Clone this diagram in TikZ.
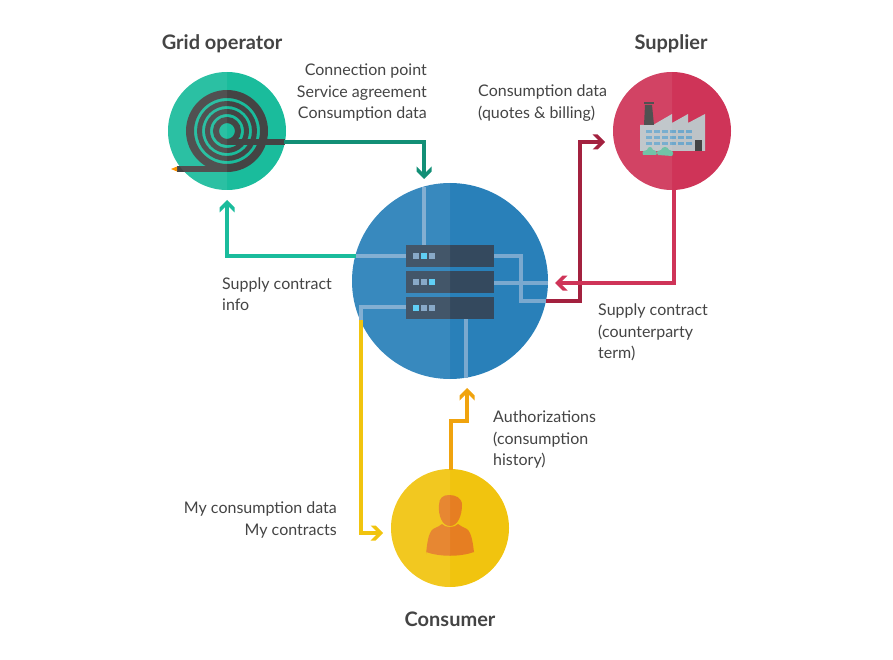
\documentclass[tikz,border=0pt]{standalone}
\usepackage{fontspec}
\setmainfont{Lato}
\usetikzlibrary{arrows.meta}
\definecolor{gridc}{HTML}{1ABC9C}
\definecolor{gridline}{HTML}{128F76}
\definecolor{supc}{HTML}{CF3458}
\definecolor{supdark}{HTML}{A3213F}
\definecolor{srvc}{HTML}{2980B9}
\definecolor{srvline}{HTML}{7AA9CF}
\definecolor{conc}{HTML}{F1C40F}
\definecolor{conline}{HTML}{F0A30E}
\definecolor{rack}{HTML}{34495E}
\definecolor{led}{HTML}{54CCF5}
\definecolor{ledoff}{HTML}{7FA3C4}
\definecolor{coil}{HTML}{444444}
\definecolor{wall}{HTML}{BDC3C7}
\definecolor{pane}{HTML}{6FA8CC}
\definecolor{bush}{HTML}{66BFA0}
\definecolor{skin}{HTML}{E67E22}
\definecolor{ink}{HTML}{444444}
% thick chevron arrow tip
\pgfdeclarearrow{
  name=Chevron,
  setup code={
    \pgfarrowssettipend{0pt}
    \pgfarrowssetlineend{-5pt}
    \pgfarrowssetvisualbackend{-12.5pt}
    \pgfarrowssetbackend{-12.5pt}
    \pgfarrowshullpoint{0pt}{0pt}
    \pgfarrowshullpoint{-12.5pt}{7.5pt}
    \pgfarrowshullpoint{-12.5pt}{-7.5pt}
  },
  drawing code={
    \pgfpathmoveto{\pgfqpoint{0pt}{0pt}}
    \pgfpathlineto{\pgfqpoint{-7.5pt}{7.5pt}}
    \pgfpathlineto{\pgfqpoint{-12.5pt}{7.5pt}}
    \pgfpathlineto{\pgfqpoint{-7pt}{2pt}}
    \pgfpathlineto{\pgfqpoint{-7pt}{-2pt}}
    \pgfpathlineto{\pgfqpoint{-12.5pt}{-7.5pt}}
    \pgfpathlineto{\pgfqpoint{-7.5pt}{-7.5pt}}
    \pgfpathclose
    \pgfusepathqfill
  }
}
\tikzset{
  x=1pt,y=-1pt,
  disc/.style={circle,inner sep=0pt,minimum size=#1,fill=none},
  flow/.style={line width=4pt,line cap=butt,line join=miter},
  tipped/.style={flow,-Chevron},
  inner line/.style={srvline,line width=4pt,line join=miter},
  title/.style={font=\fontsize{20}{24}\selectfont\bfseries,text=ink,inner sep=0pt},
  note/.style={font=\fontsize{16}{21.6}\selectfont,text=ink,inner sep=0pt},
}
\newcommand{\lefthalf}[3]{% sheen over the left half of a disc: centre x, centre y, radius
  \begin{scope}
    \clip (#1-#3,#2-#3) rectangle (#1,#2+#3);
    \fill[white,fill opacity=.075] (#1,#2) circle[radius=#3];
  \end{scope}}
\begin{document}
\begin{tikzpicture}
\useasboundingbox (0,0) rectangle (893,660);

% discs
\node[disc=118pt,fill=gridc] (grid) at (227,131) {};
\node[disc=118pt,fill=supc] (supplier) at (672,131) {};
\node[disc=196pt,fill=srvc] (server) at (450,281) {};
\node[disc=118pt,fill=conc] (consumer) at (450,528) {};

% connector ends
\coordinate (gridOut) at (284,142);
\coordinate (srvTopIn) at (424,179);
\coordinate (srvLeftOut) at (356,256);
\coordinate (gridIn) at (227,200);
\coordinate (srvRightOut) at (546,301);
\coordinate (supIn) at (605,142);
\coordinate (supOut) at (673.5,189);
\coordinate (srvRightIn) at (555,283);
\coordinate (srvLowOut) at (361,320);
\coordinate (conIn) at (383,533);
\coordinate (conOut) at (451,470);
\coordinate (srvBottomIn) at (467,388);

% cable coil
\foreach \r/\w in {37/8,27.5/5,19.5/5,11/6}
  \draw[coil,line width=\w pt] (grid.center) circle[radius=\r];
\fill[coil] (177,166) rectangle (227,172);
\fill[coil] (227,139) rectangle (285,145);
\fill[orange!85!yellow] (177,166.5) -- (171,169) -- (177,171.5) -- cycle;

% server racks and wiring
\foreach \y in {245,271,297}
  \fill[rack] (406,\y) rectangle (494,\y+22);
\foreach \y/\a/\b/\c in {253/ledoff/led/ledoff,279/ledoff/ledoff/led,305/led/ledoff/ledoff}{
  \fill[\a] (413,\y) rectangle (419,\y+6);
  \fill[\b] (421,\y) rectangle (427,\y+6);
  \fill[\c] (429,\y) rectangle (435,\y+6);
}
\draw[inner line] (424,187) -- (424,245);
\draw[inner line] (srvLeftOut) -- (406,256);
\draw[inner line] (494,256) -- (521,256) -- (521,301) -- (srvRightOut);
\draw[inner line] (494,283) -- (548,283);
\draw[inner line] (406,307) -- (361,307) -- (srvLowOut);
\draw[inner line] (466,319) -- (466,378);

% factory
\fill[wall] (640,125) -- (653,125) -- (672,114) -- (672,123) -- (688,114) -- (688,123) -- (705,114) -- (705,151) -- (640,151) -- cycle;
\fill[coil] (645,105) -- (652,105) -- (654,125) -- (644,125) -- cycle;
\fill[coil] (644,102) rectangle (654,104);
\foreach \y in {130,136,142}
  \foreach \x in {646,654,662,670,678,686}
    \fill[pane] (\x,\y) rectangle (\x+5.7,\y+3);
\fill[coil] (695,140) rectangle (702,151);
\fill[bush] (643,155) .. controls (641,151) and (645,150) .. (647,150) .. controls (648,146) and (652,146) .. (653,150) .. controls (656,150) and (658,153) .. (656,155) -- cycle;
\fill[bush] (658,155) .. controls (655,151) and (659,150) .. (661,150) .. controls (662,146) and (668,146) .. (669,150) .. controls (672,150) and (675,153) .. (672,156) -- cycle;

% person
\fill[skin] (426,554) .. controls (427,545) and (428,533) .. (433,529) .. controls (437,527) and (440,526) .. (442,524) .. controls (445,528) and (455,528) .. (458,524) .. controls (460,526) and (463,527) .. (467,529) .. controls (472,533) and (473,545) .. (474,552) .. controls (460,557) and (440,557) .. (426,552) -- cycle;
\fill[skin] (439,505) .. controls (439,498) and (443,495) .. (449,495) .. controls (456,495) and (462,498) .. (462,505) .. controls (462,515) and (458,526) .. (450,526) .. controls (442,526) and (438,515) .. (439,505) -- cycle;

% sheen on the left halves
\lefthalf{227}{131}{59}
\lefthalf{672}{131}{59}
\lefthalf{450}{281}{98}
\lefthalf{450}{528}{59}

% connectors
\draw[tipped,gridline] (gridOut) -- (424,142) -- (srvTopIn);
\draw[tipped,gridc] (srvLeftOut) -- (227,256) -- (gridIn);
\draw[tipped,supdark] (srvRightOut) -- (580,301) -- (580,142) -- (supIn);
\draw[tipped,supc] (supOut) -- (673.5,283) -- (srvRightIn);
\draw[tipped,conc] (srvLowOut) -- (361,533) -- (conIn);
\draw[tipped,conline] (conOut) -- (451,421) -- (467,421) -- (srvBottomIn);

% labels
\node[title] (tGrid) at (222,43.5) {Grid operator};
\node[title] (tSup) at (671,43.5) {Supplier};
\node[title] (tCon) at (450,619) {Consumer};
\node[note,align=right,anchor=east] (n1) at (427,92.7) {Connection point\\Service agreement\\Consumption data};
\node[note,align=left,anchor=west] (n2) at (478,103) {Consumption data\\(quotes \& billing)};
\node[note,align=left,anchor=west] (n3) at (222,294) {Supply contract\\info};
\node[note,align=left,anchor=west] (n4) at (598,332.5) {Supply contract\\(counterparty\\term)};
\node[note,align=left,anchor=west] (n5) at (493,439.5) {Authorizations\\(consumption\\history)};
\node[note,align=right,anchor=east] (n6) at (337,520) {My consumption data\\My contracts};
\end{tikzpicture}
\end{document}
